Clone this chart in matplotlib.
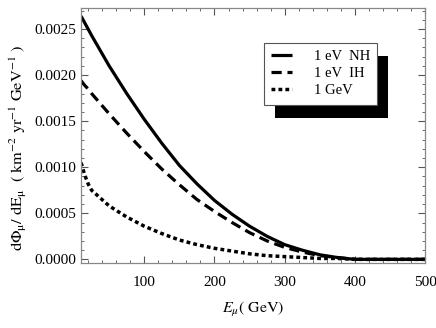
import matplotlib
matplotlib.use("Agg")
import matplotlib.pyplot as plt
from matplotlib.patches import Rectangle
from matplotlib.ticker import MultipleLocator, FormatStrFormatter

plt.rcParams['font.family'] = ['Liberation Serif', 'DejaVu Serif']
plt.rcParams['mathtext.fontset'] = 'stix'

# muon energy (GeV)
E = [10, 15, 20, 25, 50, 75, 100, 125, 150, 175, 200, 225, 250, 275, 300, 325, 350, 375, 400, 450, 500]

# dPhi/dE
nh = [0.00264, 0.00257, 0.00250, 0.00243, 0.00210, 0.00180, 0.00152, 0.00126, 0.00102, 0.00082,
      0.00064, 0.00049, 0.00036, 0.00025, 0.00016, 0.00010, 0.00005, 0.00002, 0.0, 0.0, 0.0]
ih = [0.00194, 0.00189, 0.00185, 0.00180, 0.00158, 0.00137, 0.00117, 0.00098, 0.00081, 0.00065,
      0.00052, 0.00040, 0.00029, 0.00020, 0.00013, 0.00008, 0.00004, 0.00002, 0.0, 0.0, 0.0]
gev = [0.00105, 0.00092, 0.00082, 0.00075, 0.00058, 0.00046, 0.00036, 0.00028, 0.00021, 0.00016,
       0.00012, 0.00009, 0.00006, 0.00004, 0.00003, 0.00002, 0.00001, 0.00001, 0.0, 0.0, 0.0]

labels = ["1 eV  NH", "1 eV  IH", "1 GeV"]

fig = plt.figure(figsize=(4.36, 3.28), dpi=100)
ax = fig.add_axes([0.186, 0.198, 0.789, 0.778])

ax.plot(E, nh, color='black', lw=2.3, solid_capstyle='butt', label=labels[0])
ax.plot(E, ih, color='black', lw=2.3, dashes=(3.2, 1.8), label=labels[1])
ax.plot(E, gev, color='black', lw=2.5, dashes=(1.1, 0.9), label=labels[2])

ax.set_xlim(10, 500)
ax.set_ylim(-0.00004, 0.00273)

ax.xaxis.set_major_locator(MultipleLocator(100))
ax.xaxis.set_minor_locator(MultipleLocator(20))
ax.yaxis.set_major_locator(MultipleLocator(0.0005))
ax.yaxis.set_minor_locator(MultipleLocator(0.0001))
ax.yaxis.set_major_formatter(FormatStrFormatter('%.4f'))

ax.tick_params(which='both', direction='in', top=True, right=True, color='#555555', labelsize=11)
ax.tick_params(which='major', length=5, width=0.8)
ax.tick_params(which='minor', length=2.5, width=0.6)
ax.tick_params(axis='x', pad=9)
for s in ax.spines.values():
    s.set_color('#888888')
    s.set_linewidth(0.9)

ax.set_xlabel(r'$E_\mu\mathrm{(\ GeV)}$', fontsize=11.5, labelpad=8)
ax.set_ylabel(r'$\mathrm{d\Phi_\mu/\ dE_\mu\ \ (\ km^{-2}\ yr^{-1}\ GeV^{-1}\ )}$', fontsize=11.8)
ax.yaxis.set_label_coords(-0.15, 0.45)

leg = ax.legend(loc='upper left', bbox_to_anchor=(264 / 436, 1 - 43 / 328),
                bbox_transform=fig.transFigure, fancybox=False, framealpha=1,
                edgecolor='#555555', fontsize=10.5, handlelength=1.4, handletextpad=1.5,
                borderpad=0.5, labelspacing=0.25, borderaxespad=0)
leg.get_frame().set_linewidth(0.8)

fig.canvas.draw()
bb = leg.get_window_extent()
shadow = Rectangle((bb.x0 + 11, bb.y0 - 13), bb.width, bb.height, transform=None,
                   facecolor='black', edgecolor='none', zorder=4.5)
ax.add_artist(shadow)

fig.savefig('out.png', dpi=100)
